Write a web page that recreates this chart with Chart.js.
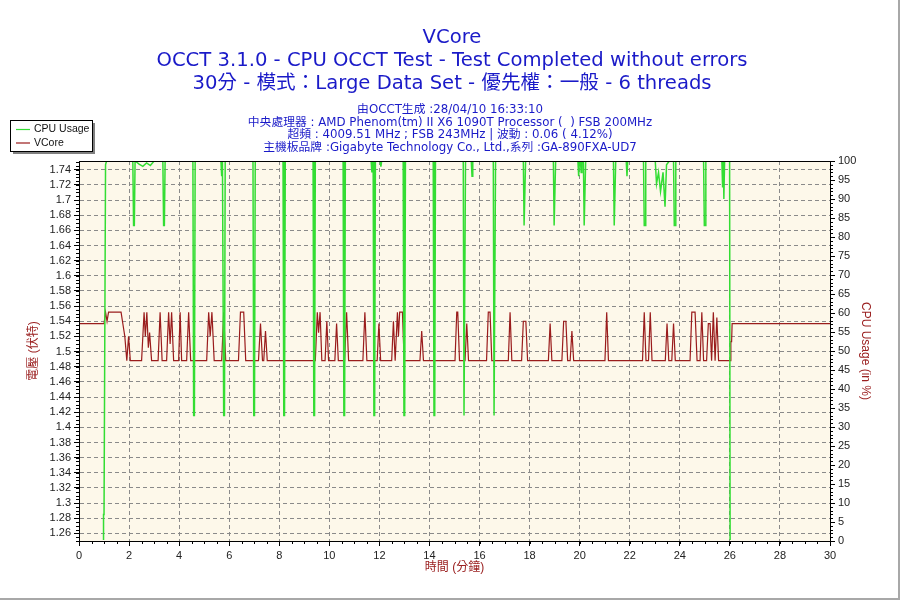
<!DOCTYPE html>
<html>
<head>
<meta charset="utf-8">
<script src="https://cdn.jsdelivr.net/npm/chart.js@4.4.0/dist/chart.umd.min.js"></script>
<style>
  html, body { margin: 0; padding: 0; background: #fff; }
  canvas { display: block; }
</style>
</head>
<body>
<canvas id="vcoreChart" width="900" height="600"></canvas>
<script>
// tick labels
const timeTicks = [0, 2, 4, 6, 8, 10, 12, 14, 16, 18, 20, 22, 24, 26, 28, 30];
const voltTicks = [1.26, 1.28, 1.3, 1.32, 1.34, 1.36, 1.38, 1.4, 1.42, 1.44, 1.46, 1.48, 1.5,
                   1.52, 1.54, 1.56, 1.58, 1.6, 1.62, 1.64, 1.66, 1.68, 1.7, 1.72, 1.74];
const usageTicks = [0, 5, 10, 15, 20, 25, 30, 35, 40, 45, 50, 55, 60, 65, 70, 75, 80, 85, 90, 95, 100];

const titleLines = [
  'VCore',
  'OCCT 3.1.0 - CPU OCCT Test - Test Completed without errors',
  '30分 - 模式：Large Data Set - 優先權：一般 - 6 threads'
];
const infoLines = [
  '由OCCT生成 :28/04/10 16:33:10',
  '中央處理器 : AMD Phenom(tm) II X6 1090T Processor (  ) FSB 200MHz',
  '超頻 : 4009.51 MHz ; FSB 243MHz | 波動 : 0.06 ( 4.12%)',
  '主機板品牌 :Gigabyte Technology Co., Ltd.,系列 :GA-890FXA-UD7'
];

// CPU Usage (%), time in minutes
const cpuTimes = [
  0, 0.96, 0.98, 1.0, 1.06, 1.1,
  2.15, 2.18, 2.21, 2.24,
  2.4, 2.55, 2.7, 2.85, 3.0,
  3.35, 3.38, 3.41, 3.44,
  4.55, 4.58, 4.61, 4.64,
  5.67, 5.70, 5.73, 5.75, 5.78, 5.81, 5.84,
  6.95, 6.98, 7.01, 7.04,
  8.15, 8.18, 8.21, 8.24,
  9.35, 9.38, 9.41, 9.44,
  10.55, 10.58, 10.61, 10.64,
  11.67, 11.70, 11.73, 11.75, 11.78, 11.81, 11.84, 12.03, 12.06, 12.09,
  12.95, 12.98, 13.01, 13.04,
  14.15, 14.18, 14.21, 14.24,
  15.35, 15.38, 15.41, 15.44, 15.67, 15.70, 15.73,
  16.55, 16.58, 16.61, 16.64,
  17.75, 17.78, 17.81, 17.84,
  18.95, 18.98, 19.01, 19.04,
  19.93, 19.96, 19.99, 20.03, 20.06, 20.09,
  20.15, 20.18, 20.21, 20.24,
  21.35, 21.38, 21.41, 21.44,
  21.86, 21.89, 21.92,
  22.55, 22.58, 22.61, 22.64,
  23.02, 23.07, 23.15, 23.23, 23.33, 23.41, 23.47, 23.58,
  23.75, 23.78, 23.81, 23.84,
  24.95, 24.98, 25.01, 25.04,
  25.68, 25.71, 25.74, 25.76, 25.79,
  25.99, 26.01, 30
];
const cpuValues = [
  0, 0, 7, 7, 99, 100,
  100, 83, 83, 100,
  99.2, 98.6, 99.5, 98.8, 100,
  100, 83, 83, 100,
  100, 33, 33, 100,
  100, 96, 100, 100, 33, 33, 100,
  100, 33, 33, 100,
  100, 33, 33, 100,
  100, 33, 33, 100,
  100, 33, 33, 100,
  100, 97, 100, 100, 33, 33, 100, 100, 98.5, 100,
  100, 33, 33, 100,
  100, 33, 33, 100,
  100, 33, 33, 100, 100, 96, 100,
  100, 33, 33, 100,
  100, 83, 83, 100,
  100, 83, 83, 100,
  100, 96, 100, 100, 97, 100,
  100, 83, 83, 100,
  100, 83, 83, 100,
  100, 96, 100,
  100, 83, 83, 100,
  100, 94, 97, 92, 97, 88, 99, 100,
  100, 83, 83, 100,
  100, 83, 83, 100,
  100, 93, 100, 90, 100,
  100, 0, 0
];

// VCore (V), time in minutes
const vcoreTimes = [
  0, 1.0, 1.06, 1.12, 1.18, 1.68, 1.75, 1.83, 1.91, 1.98, 2.05,
  2.50, 2.60, 2.65, 2.71, 2.77, 2.82, 2.90,
  3.16, 3.24, 3.32,
  3.50, 3.58, 3.64, 3.70, 3.78,
  3.98, 4.04, 4.10,
  4.30, 4.38, 4.46,
  5.10, 5.18, 5.24, 5.31, 5.40,
  5.70, 5.78, 5.86,
  6.37, 6.45, 6.58, 6.66,
  7.17, 7.25, 7.33,
  7.38, 7.45, 7.52,
  9.44, 9.52, 9.57, 9.63, 9.70,
  9.83, 9.90, 9.97,
  10.22, 10.29, 10.36,
  10.61, 10.69, 10.77,
  11.34, 11.42, 11.50,
  11.91, 11.98, 12.05,
  12.49, 12.56, 12.63,
  12.65, 12.72, 12.76, 12.81, 12.92, 12.99,
  13.62, 13.69, 13.76,
  15.02, 15.09, 15.13, 15.20,
  15.42, 15.49, 15.56,
  16.28, 16.35, 16.42, 16.49,
  17.15, 17.22, 17.29,
  17.68, 17.75, 17.85, 17.92,
  18.75, 18.82, 18.89,
  19.29, 19.36, 19.45, 19.52,
  19.62, 19.69, 19.76,
  21.01, 21.08, 21.15,
  22.51, 22.58, 22.65, 22.75, 22.82, 22.89,
  23.42, 23.49, 23.56, 23.68, 23.75, 23.82,
  24.41, 24.48, 24.61, 24.69, 24.81, 24.88, 24.95, 25.07, 25.14, 25.21, 25.27, 25.34, 25.41, 25.48, 25.55,
  26.02, 26.04, 26.07, 26.09, 30
];
const vcoreValues = [
  1.537, 1.537, 1.552, 1.54, 1.552, 1.552, 1.537, 1.52, 1.488, 1.52, 1.488,
  1.488, 1.552, 1.52, 1.552, 1.505, 1.525, 1.488,
  1.488, 1.552, 1.488,
  1.488, 1.552, 1.51, 1.552, 1.488,
  1.488, 1.552, 1.488,
  1.488, 1.552, 1.488,
  1.488, 1.552, 1.52, 1.552, 1.488,
  1.488, 1.552, 1.488,
  1.488, 1.552, 1.552, 1.488,
  1.488, 1.537, 1.488,
  1.488, 1.527, 1.488,
  1.488, 1.552, 1.525, 1.552, 1.488,
  1.488, 1.54, 1.488,
  1.488, 1.537, 1.488,
  1.488, 1.552, 1.488,
  1.488, 1.552, 1.488,
  1.488, 1.537, 1.488,
  1.488, 1.54, 1.488,
  1.488, 1.552, 1.52, 1.552, 1.552, 1.488,
  1.488, 1.527, 1.488,
  1.488, 1.552, 1.552, 1.488,
  1.488, 1.537, 1.488,
  1.488, 1.552, 1.552, 1.488,
  1.488, 1.552, 1.488,
  1.488, 1.54, 1.54, 1.488,
  1.488, 1.537, 1.488,
  1.488, 1.54, 1.54, 1.488,
  1.488, 1.527, 1.488,
  1.488, 1.552, 1.488,
  1.488, 1.552, 1.488, 1.488, 1.552, 1.488,
  1.488, 1.537, 1.488, 1.488, 1.537, 1.488,
  1.488, 1.552, 1.552, 1.488, 1.488, 1.552, 1.488, 1.488, 1.537, 1.537, 1.488, 1.552, 1.488, 1.545, 1.488,
  1.488, 1.513, 1.513, 1.537, 1.537
];

function toPoints(xs, ys) {
  return xs.map(function(x, i) { return { x: x, y: ys[i] }; });
}

const TICK_FONT = { family: '"Liberation Sans", Arial, sans-serif', size: 11 };
const AXIS_TITLE_FONT = { family: '"Liberation Sans", Arial, "Noto Sans CJK TC", sans-serif', size: 12 };
const AXIS_RED = '#9b2020';
const GRID_GRAY = '#8a8a8a';

// page decorations: plot background, frame, minor ticks, titles, legend
const occtPlugin = {
  id: 'occtDecor',
  beforeDraw(chart) {
    const ctx = chart.ctx;
    const a = chart.chartArea;
    ctx.save();
    ctx.fillStyle = '#ffffff';
    ctx.fillRect(0, 0, chart.width, chart.height);
    ctx.fillStyle = '#fdf8ea';
    ctx.fillRect(a.left, a.top, a.right - a.left, a.bottom - a.top);
    ctx.restore();
  },
  afterDraw(chart) {
    const ctx = chart.ctx;
    const a = chart.chartArea;
    ctx.save();

    // frame
    ctx.strokeStyle = '#000';
    ctx.lineWidth = 1;
    ctx.strokeRect(a.left + 0.5, Math.round(a.top) + 0.5, a.right - a.left, a.bottom - a.top);

    // minor ticks
    ctx.beginPath();
    const yv = chart.scales.yVolt, yc = chart.scales.yCpu, xs = chart.scales.x;
    for (let v = 1.25; v < yv.max; v += 0.005) {
      const p = Math.round(yv.getPixelForValue(v)) + 0.5;
      ctx.moveTo(a.left - 3, p); ctx.lineTo(a.left, p);
    }
    for (let v = 0; v <= 100; v += 1) {
      const p = Math.round(yc.getPixelForValue(v)) + 0.5;
      ctx.moveTo(a.right, p); ctx.lineTo(a.right + 3, p);
    }
    for (let v = 0; v <= 30; v += 0.5) {
      const p = Math.round(xs.getPixelForValue(v)) + 0.5;
      ctx.moveTo(p, a.bottom); ctx.lineTo(p, a.bottom + 3);
    }
    ctx.stroke();

    // titles
    ctx.fillStyle = '#1a1ac8';
    ctx.textAlign = 'center';
    ctx.textBaseline = 'middle';
    ctx.font = '19.6px "DejaVu Sans", "Noto Sans CJK TC", sans-serif';
    titleLines.forEach(function(t, i) { ctx.fillText(t, 452, 38 + i * 23); });
    ctx.font = '11.8px "DejaVu Sans", "Noto Sans CJK TC", sans-serif';
    infoLines.forEach(function(t, i) { ctx.fillText(t, 450, 110 + i * 12.5); });

    // legend box
    ctx.fillStyle = '#808080';
    ctx.fillRect(13, 123, 82, 31);
    ctx.fillStyle = '#ffffff';
    ctx.fillRect(10, 120, 82, 31);
    ctx.strokeStyle = '#000';
    ctx.strokeRect(10.5, 120.5, 82, 31);
    ctx.textAlign = 'left';
    ctx.font = '10.5px "Liberation Sans", Arial, sans-serif';
    chart.data.datasets.forEach(function(ds, i) {
      const y = 129.5 + i * 13.5;
      ctx.strokeStyle = ds.borderColor;
      ctx.lineWidth = 1.2;
      ctx.beginPath(); ctx.moveTo(16, y); ctx.lineTo(30, y); ctx.stroke();
      ctx.fillStyle = '#111';
      ctx.fillText(ds.label, 34, y);
    });

    // outer shadow edges
    ctx.fillStyle = '#a8a8a8';
    ctx.fillRect(898, 0, 2, 600);
    ctx.fillRect(0, 598, 900, 2);
    ctx.restore();
  }
};

const ctx = document.getElementById('vcoreChart').getContext('2d');
new Chart(ctx, {
  type: 'line',
  data: {
    datasets: [{
      label: 'CPU Usage',
      data: toPoints(cpuTimes, cpuValues),
      yAxisID: 'yCpu',
      borderColor: '#33dd33',
      borderWidth: 1.5,
      pointRadius: 0,
      fill: false,
      clip: { left: 0, top: 0, right: 0, bottom: -1 }
    }, {
      label: 'VCore',
      data: toPoints(vcoreTimes, vcoreValues),
      yAxisID: 'yVolt',
      borderColor: '#9a1c1c',
      borderWidth: 1.2,
      pointRadius: 0,
      fill: false
    }]
  },
  options: {
    responsive: false,
    animation: false,
    devicePixelRatio: 1,
    layout: { padding: { top: 161, left: 0, right: 0, bottom: 0 } },
    plugins: {
      legend: { display: false },
      tooltip: { enabled: false }
    },
    scales: {
      x: {
        type: 'linear',
        position: 'bottom',
        min: 0,
        max: 30,
        afterBuildTicks: function(s) { s.ticks = timeTicks.map(function(v) { return { value: v }; }); },
        afterFit: function(s) { s.height = 59; },
        ticks: { font: TICK_FONT, color: '#222', padding: 3, autoSkip: false, maxRotation: 0,
                 callback: function(v) { return String(v); } },
        grid: {
          color: function(c) { return (c.tick && (c.tick.value === 0 || c.tick.value === 30)) ? 'rgba(0,0,0,0)' : GRID_GRAY; },
          tickColor: '#000', tickLength: 5
        },
        border: { display: true, color: '#000', width: 1, dash: [4, 3] },
        title: { display: true, text: '時間 (分鐘)', color: AXIS_RED, font: AXIS_TITLE_FONT,
                 padding: { top: 0, bottom: 25 } }
      },
      yVolt: {
        type: 'linear',
        position: 'left',
        min: 1.25,
        max: 1.7515,
        afterBuildTicks: function(s) { s.ticks = voltTicks.map(function(v) { return { value: v }; }); },
        afterFit: function(s) { s.width = 79; },
        ticks: { font: TICK_FONT, color: '#222', padding: 3, autoSkip: false,
                 callback: function(v) { return String(+v.toFixed(2)); } },
        grid: { color: GRID_GRAY, tickColor: '#000', tickLength: 5 },
        border: { display: true, color: '#000', width: 1, dash: [4, 3] },
        title: { display: true, text: '電壓 (伏特)', color: AXIS_RED, font: AXIS_TITLE_FONT,
                 padding: { top: 26, bottom: 0 } }
      },
      yCpu: {
        type: 'linear',
        position: 'right',
        min: 0,
        max: 100,
        afterBuildTicks: function(s) { s.ticks = usageTicks.map(function(v) { return { value: v }; }); },
        afterFit: function(s) { s.width = 70; },
        ticks: { font: TICK_FONT, color: '#222', padding: 3, autoSkip: false,
                 callback: function(v) { return String(v); } },
        grid: { drawOnChartArea: false, tickColor: '#000', tickLength: 5 },
        border: { display: true, color: '#000', width: 1 },
        title: { display: true, text: 'CPU Usage (in %)', color: AXIS_RED, font: AXIS_TITLE_FONT,
                 padding: { top: 27, bottom: 0 } }
      }
    }
  },
  plugins: [occtPlugin]
});
</script>
</body>
</html>
